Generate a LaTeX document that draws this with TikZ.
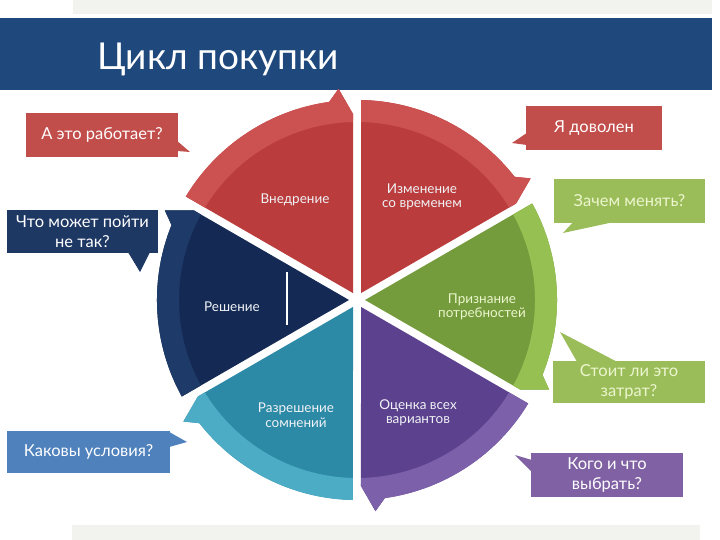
\documentclass[tikz,border=0pt]{standalone}
\usepackage{fontspec}
\setmainfont{Lato}
\definecolor{titlebar}{RGB}{31,73,125}
\definecolor{topgray}{RGB}{242,242,238}
\definecolor{redD}{RGB}{186,60,60}
\definecolor{redL}{RGB}{203,82,80}
\definecolor{navyD}{RGB}{20,42,84}
\definecolor{navyL}{RGB}{30,58,104}
\definecolor{tealD}{RGB}{44,138,166}
\definecolor{tealL}{RGB}{76,172,198}
\definecolor{purD}{RGB}{92,66,142}
\definecolor{purL}{RGB}{124,96,170}
\definecolor{grnD}{RGB}{116,156,60}
\definecolor{grnL}{RGB}{150,192,82}
\definecolor{boxRed}{RGB}{194,78,76}
\definecolor{boxNavy}{RGB}{30,56,100}
\definecolor{boxBlue}{RGB}{79,129,189}
\definecolor{boxGrn}{RGB}{155,189,89}
\definecolor{boxPur}{RGB}{128,98,164}
\definecolor{paleGrn}{RGB}{236,246,206}
\definecolor{offWhite}{RGB}{240,242,246}
\newcommand\wheelseg[3]{%
  \pgfmathsetmacro\segA{#1+60}%
  \fill[#2] (#1+30:8) -- (\segA-1.15:200.04)
    arc[start angle=\segA-1.15, end angle=#1+8, radius=200]
    -- (#1+5:212) -- (#1+1.23:186.04) -- cycle;
  \fill[#3] (\segA-1.15:200.04)
    arc[start angle=\segA-1.15, end angle=#1+8, radius=200]
    -- (#1+5:212) -- (#1+1.23:186.04) -- (#1+1.29:178.04)
    arc[start angle=#1+1.29, end angle=\segA-1.29, radius=178] -- cycle;
}
\tikzset{
  seglabel/.style={text=offWhite, align=center, font=\fontsize{13.5}{14.5}\selectfont, inner sep=0pt},
  qbox/.style={text=white, align=center, font=\fontsize{16.5}{20}\selectfont, inner sep=2pt},
}
\begin{document}
\begin{tikzpicture}[x=1pt,y=1pt]
\useasboundingbox (0,0) rectangle (720,540);
% background bars
\fill[topgray] (73,526) rectangle (712,540);
\fill[topgray] (72,0) rectangle (700,15);
\fill[titlebar] (0,450) rectangle (712,522);
\node[anchor=base west, inner sep=0pt, text=white, font=\fontsize{37}{44}\selectfont] (title) at (97,470) {Цикл покупки};
% wheel
\begin{scope}[shift={(357,240)}]
  \wheelseg{90}{redD}{redL}
  \wheelseg{30}{redD}{redL}
  \wheelseg{-30}{grnD}{grnL}
  \wheelseg{-90}{purD}{purL}
  \wheelseg{-150}{tealD}{tealL}
  \wheelseg{150}{navyD}{navyL}
\end{scope}
\draw[white, line width=1.2pt] (287,268) -- (287,215);
% wheel labels
\node[seglabel] (l1) at (295,340) {Внедрение};
\node[seglabel] (l2) at (422,343) {Изменение\\со временем};
\node[seglabel] (l3) at (232,233) {Решение};
\node[seglabel, text=paleGrn] (l4) at (482,233) {Признание\\потребностей};
\node[seglabel] (l5) at (296,125) {Разрешение\\сомнений};
\node[seglabel] (l6) at (418,127) {Оценка всех\\вариантов};
% callouts
\node[qbox, fill=boxRed, minimum width=152pt, minimum height=44pt] (b1) at (102,405) {А это работает?};
\coordinate (t1) at (190,388);
\fill[boxRed] ([xshift=-1pt,yshift=-6pt]b1.east) -- (t1) -- ([xshift=-1pt,yshift=-16pt]b1.east) -- cycle;

\node[qbox, fill=boxNavy, minimum width=151pt, minimum height=43pt] (b2) at (82.5,308.5) {Что может пойти\\не так?};
\coordinate (t2) at (140,268);
\fill[boxNavy] ([xshift=45.5pt,yshift=1pt]b2.south) -- (t2) -- ([xshift=67.5pt,yshift=1pt]b2.south) -- cycle;

\node[qbox, fill=boxRed, minimum width=136pt, minimum height=44pt] (b3) at (594,412) {Я доволен};
\coordinate (t3) at (512,397);
\fill[boxRed] ([xshift=1pt,yshift=-5pt]b3.west) -- (t3) -- ([xshift=1pt,yshift=-17pt]b3.west) -- cycle;

\node[qbox, fill=boxGrn, text=paleGrn, minimum width=151pt, minimum height=44pt] (b4) at (629.5,339) {Зачем менять?};
\coordinate (t4) at (563,307);
\fill[boxGrn] ([xshift=-56.5pt,yshift=1pt]b4.south) -- (t4) -- ([xshift=-16.5pt,yshift=1pt]b4.south) -- cycle;

\node[qbox, fill=boxGrn, text=paleGrn, minimum width=152pt, minimum height=42pt] (b5) at (629,158) {Стоит ли это\\затрат?};
\coordinate (t5) at (560,208);
\fill[boxGrn] ([xshift=-52pt,yshift=-1pt]b5.north) -- (t5) -- ([xshift=-12pt,yshift=-1pt]b5.north) -- cycle;

\node[qbox, fill=boxPur, minimum width=152pt, minimum height=44pt] (b6) at (607,65) {Кого и что\\выбрать?};
\coordinate (t6) at (515,85);
\fill[boxPur] ([xshift=1pt,yshift=15pt]b6.west) -- (t6) -- ([xshift=1pt,yshift=3pt]b6.west) -- cycle;

\node[qbox, fill=boxBlue, minimum width=163pt, minimum height=42pt] (b7) at (88.5,88) {Каковы условия?};
\coordinate (t7) at (187,98);
\fill[boxBlue] ([xshift=-1pt,yshift=20pt]b7.east) -- (t7) -- ([xshift=-1pt,yshift=5pt]b7.east) -- cycle;
\end{tikzpicture}
\end{document}
